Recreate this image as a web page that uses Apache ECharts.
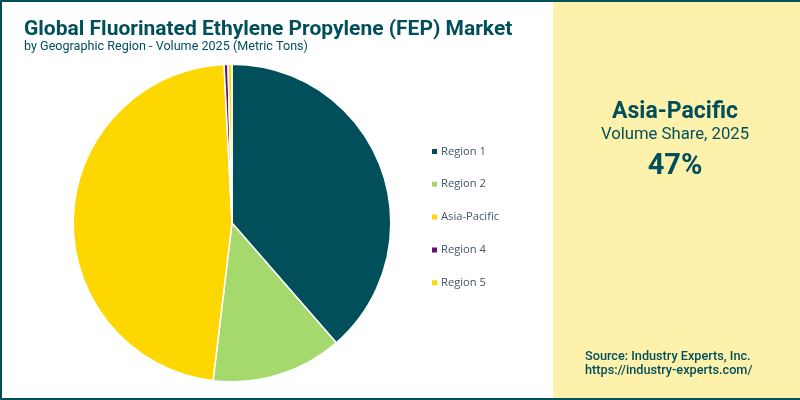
<!DOCTYPE html>
<html>
<head>
<meta charset="utf-8">
<title>Global Fluorinated Ethylene Propylene (FEP) Market</title>
<script src="https://cdn.jsdelivr.net/npm/echarts@6/dist/echarts.min.js"></script>
<style>
  html, body { margin: 0; padding: 0; background: #fff; }
  #chart { width: 800px; height: 400px; }
</style>
</head>
<body>
<div id="chart"></div>
<script>
const regions = ['Region 1', 'Region 2', 'Asia-Pacific', 'Region 4', 'Region 5'];
const volumes = [38.6, 13.3, 47.3, 0.4, 0.4];
const colors = ['#004f5b', '#a5d86d', '#ffd700', '#6a1070', '#ffd700'];

const teal = '#004f5b';
const font = 'Roboto';

const myChart = echarts.init(document.getElementById('chart'));
myChart.setOption({
  animation: false,
  color: colors,
  title: [
    {
      text: 'Global Fluorinated Ethylene Propylene (FEP) Market',
      left: 19, top: 14,
      textStyle: { fontFamily: font, fontSize: 21, fontWeight: 'bold', color: teal }
    },
    {
      text: 'by Geographic Region - Volume 2025 (Metric Tons)',
      left: 19, top: 35,
      textStyle: { fontFamily: font, fontSize: 12.6, fontWeight: 'normal', color: teal }
    }
  ],
  legend: {
    orient: 'vertical',
    left: 425, top: 141,
    itemWidth: 7, itemHeight: 7,
    itemGap: 21.8,
    icon: 'rect',
    data: regions,
    textStyle: { fontFamily: 'Open Sans', fontSize: 11.2, fontWeight: 500, color: '#44546a', padding: [0, 0, 0, -2] }
  },
  graphic: [
    { type: 'rect', z: -1, shape: { x: 553, y: 0, width: 247, height: 400 }, style: { fill: '#fdf1ac' } },
    { type: 'rect', z: 10, shape: { x: 0, y: 0, width: 800, height: 2 }, style: { fill: teal } },
    { type: 'rect', z: 10, shape: { x: 0, y: 398, width: 800, height: 2 }, style: { fill: teal } },
    { type: 'rect', z: 10, shape: { x: 0, y: 0, width: 2, height: 400 }, style: { fill: teal } },
    { type: 'text', x: 675, y: 101, style: { text: 'Asia-Pacific', fill: teal, align: 'center', font: 'bold 23px Roboto' } },
    { type: 'text', x: 675, y: 126, style: { text: 'Volume Share, 2025', fill: teal, align: 'center', font: '16.7px Roboto' } },
    { type: 'text', x: 675, y: 152, style: { text: '47%', fill: teal, align: 'center', font: 'bold 29px Roboto' } },
    { type: 'text', x: 585, y: 350, style: { text: 'Source: Industry Experts, Inc.', fill: teal, font: '500 12.7px Roboto' } },
    { type: 'text', x: 585, y: 364, style: { text: 'https://industry-experts.com/', fill: teal, font: '500 12.7px Roboto' } }
  ],
  series: [
    {
      type: 'pie',
      center: [232, 223],
      radius: [0, 158.8],
      startAngle: 90,
      clockwise: true,
      label: { show: false },
      labelLine: { show: false },
      itemStyle: { borderColor: '#fff', borderWidth: 1.5 },
      data: regions.map((name, idx) => ({ name, value: volumes[idx] }))
    }
  ]
});
</script>
</body>
</html>
